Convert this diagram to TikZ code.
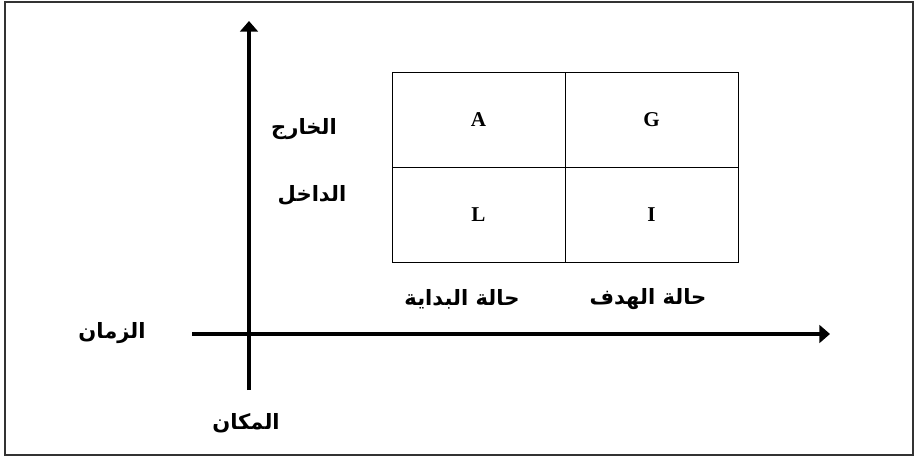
\documentclass[tikz,border=0pt]{standalone}
\usepackage{fontspec}
\setmainfont{Liberation Serif}
\newfontfamily\arabicfont[Script=Arabic]{DejaVu Sans}
\TeXXeTstate=1
\usetikzlibrary{arrows.meta}
\tikzset{
  axis/.style={line width=2.8pt,-{Triangle[length=7.5pt,width=12.5pt]}},
  cell/.style={draw,line width=0.7pt,minimum width=4.325cm,minimum height=2.375cm,font=\bfseries\fontsize{15}{17}\selectfont},
  lbl/.style={font=\arabicfont\bfseries\fontsize{15}{17}\selectfont}
}
\begin{document}
\begin{tikzpicture}
        \useasboundingbox (0,0) rectangle (22.875,11.425);
        %% Frame
        \draw[line width=1pt,black!80] (0.125,0.05) rectangle (22.825,11.375);
        %% Axes
        \coordinate (ys) at (6.225,1.675);
        \coordinate (ye) at (6.225,10.9);
        \coordinate (xs) at (4.8,3.075);
        \coordinate (xe) at (20.75,3.075);
        \draw[axis] (ys) -- (ye);
        \draw[axis] (xs) -- (xe);
        %% Cells
        \node[cell] (A) at (11.9625,8.4375) {A};
        \node[cell] (G) at (16.2875,8.4375) {G};
        \node[cell] (L) at (11.9625,6.0625) {L};
        \node[cell] (I) at (16.2875,6.0625) {I};
        %% Labels
        \node[lbl] (out) at (7.6,8.2) {\beginR الخارج\endR};
        \node[lbl] (in) at (7.8,6.55) {\beginR الداخل\endR};
        \node[lbl] (start) at (11.55,3.95) {\beginR حالة البداية\endR};
        \node[lbl] (goal) at (16.2,3.95) {\beginR حالة الهدف\endR};
        \node[lbl] (time) at (2.8,3.1) {\beginR الزمان\endR};
        \node[lbl] (place) at (6.15,0.85) {\beginR المكان\endR};
    \end{tikzpicture}
\end{document}
